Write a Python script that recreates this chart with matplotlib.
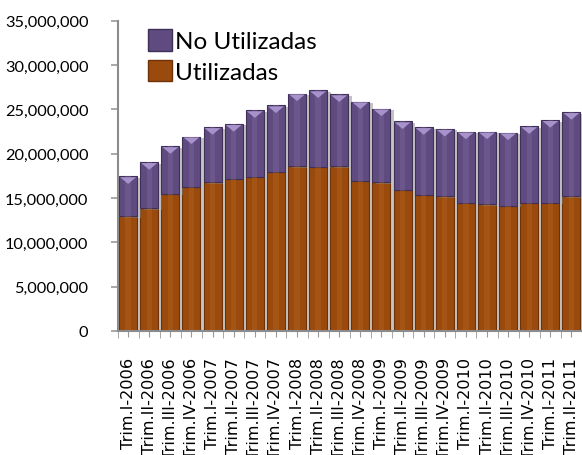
import numpy as np
import matplotlib
matplotlib.use("Agg")
import matplotlib.pyplot as plt
from matplotlib.patches import Patch
from matplotlib.ticker import FuncFormatter, MultipleLocator
import matplotlib.patheffects as pe

# quarters shown on the x axis
trimestres = ["Trim.I-2006", "Trim.II-2006", "Trim.III-2006", "Trim.IV-2006",
              "Trim.I-2007", "Trim.II-2007", "Trim.III-2007", "Trim.IV-2007",
              "Trim.I-2008", "Trim.II-2008", "Trim.III-2008", "Trim.IV-2008",
              "Trim.I-2009", "Trim.II-2009", "Trim.III-2009", "Trim.IV-2009",
              "Trim.I-2010", "Trim.II-2010", "Trim.III-2010", "Trim.IV-2010",
              "Trim.I-2011", "Trim.II-2011"]

# (millions)
utilizadas = [12.95, 13.85, 15.5, 16.3, 16.8, 17.15, 17.4, 17.95,
              18.6, 18.55, 18.6, 16.95, 16.8, 15.9, 15.4, 15.2,
              14.45, 14.3, 14.1, 14.5, 14.5, 15.2]
totales = [17.45, 19.05, 20.85, 21.95, 23.0, 23.35, 24.9, 25.45,
           26.8, 27.15, 26.7, 25.9, 25.1, 23.65, 23.0, 22.8,
           22.5, 22.5, 22.4, 23.1, 23.8, 24.7]

utilizadas = np.array(utilizadas) * 1e6
no_utilizadas = np.array(totales) * 1e6 - utilizadas

NARANJA = "#9a4a0c"
NARANJA_OSC = "#6e3206"
MORADO = "#5f4b80"
MORADO_OSC = "#3f3058"
MORADO_CLARO = "#a792cc"

fig = plt.figure(figsize=(5.82, 4.56), dpi=100)
ax = fig.add_axes([0.202, 0.272, 0.798, 0.68])

x = np.arange(len(trimestres))
w = 0.85
sombra = [pe.SimplePatchShadow(offset=(2.5, -1), shadow_rgbFace="#888888", alpha=0.5), pe.Normal()]

ax.bar(x, utilizadas, w, color=NARANJA, edgecolor=NARANJA_OSC, linewidth=0.8,
       path_effects=sombra, zorder=2)
ax.bar(x, no_utilizadas, w, bottom=utilizadas, color=MORADO, edgecolor=MORADO_OSC,
       linewidth=0.8, path_effects=sombra, zorder=2)

# light stripe down the middle of the bars
ax.bar(x, utilizadas, w * 0.3, color="#b86a2a", alpha=0.35, linewidth=0, zorder=3)
ax.bar(x, no_utilizadas, w * 0.3, bottom=utilizadas, color="#8a76a8", alpha=0.3,
       linewidth=0, zorder=3)

# bevel on the top of each stack
tops = utilizadas + no_utilizadas
for xi, t in zip(x, tops):
    ax.fill([xi - w / 2 + 0.05, xi + w / 2 - 0.05, xi], [t - 0.1e6, t - 0.1e6, t - 0.85e6],
            color=MORADO_CLARO, linewidth=0, zorder=4)

ax.set_xlim(-0.5, len(trimestres) - 0.5)
ax.set_ylim(0, 35e6)
ax.yaxis.set_major_locator(MultipleLocator(5e6))
ax.yaxis.set_major_formatter(FuncFormatter(lambda v, p: f"{v:,.0f}"))

ax.set_xticks(x)
ax.set_xticklabels(trimestres, rotation=90, family="DejaVu Sans", fontsize=11.6)
ax.set_xticks(np.arange(-0.5, len(trimestres), 1.0), minor=True)
ax.tick_params(axis="x", which="major", length=4, color="#999999", pad=15)
ax.tick_params(axis="x", which="minor", length=5, color="#999999")
ax.tick_params(axis="y", length=5, color="#999999", width=1.2, pad=16)
for lab in ax.get_yticklabels():
    lab.set_family("Lato")
    lab.set_fontsize(11.8)

for s in ["top", "right"]:
    ax.spines[s].set_visible(False)
ax.spines["left"].set_color("#8c8c8c")
ax.spines["left"].set_linewidth(1.5)
ax.spines["bottom"].set_color("#8c8c8c")
ax.spines["bottom"].set_linewidth(1.5)
ax.spines["bottom"].set_zorder(5)

handles = [Patch(facecolor=MORADO, edgecolor=MORADO_OSC, label="No Utilizadas"),
           Patch(facecolor=NARANJA, edgecolor=NARANJA_OSC, label="Utilizadas")]
ax.legend(handles=handles, loc="upper left", bbox_to_anchor=(0.045, 1.005), frameon=False,
          prop={"family": "Lato", "size": 17.5}, handlelength=1.0, handleheight=1.0,
          handletextpad=0.1, labelspacing=0.3, borderaxespad=0)

fig.savefig("out.png", dpi=100)
